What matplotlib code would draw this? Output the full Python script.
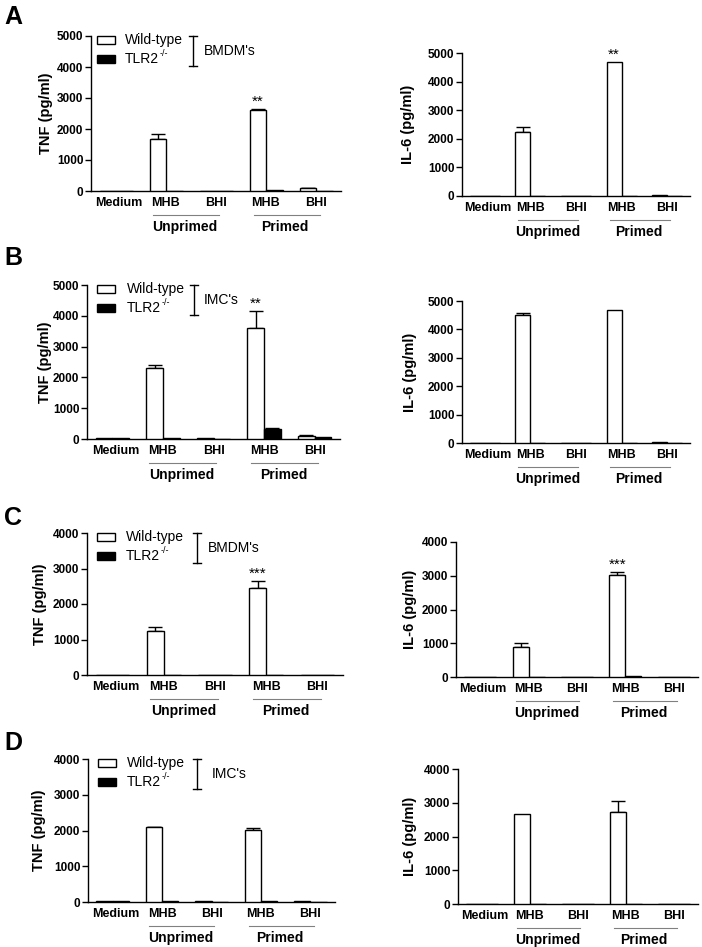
import numpy as np
import matplotlib
matplotlib.use('Agg')
import matplotlib.pyplot as plt
from matplotlib.patches import Rectangle
from matplotlib.lines import Line2D
from matplotlib.text import Annotation
from matplotlib import transforms

plt.rcParams['font.family'] = ['Liberation Sans', 'DejaVu Sans']
plt.rcParams['mathtext.default'] = 'regular'

# categories
groups = ['Medium', 'MHB', 'BHI', 'MHB', 'BHI']
prime_labels = ['Unprimed', 'Primed']

# A: BMDM's
A_tnf_wt = [0, 1680, 10, 2620, 100]
A_tnf_wt_err = [0, 160, 0, 40, 10]
A_tnf_ko = [0, 5, 5, 20, 15]
A_il6_wt = [15, 2230, 0, 4680, 30]
A_il6_wt_err = [0, 170, 0, 0, 0]
A_il6_ko = [0, 0, 0, 0, 0]

# B: IMC's
B_tnf_wt = [20, 2300, 30, 3600, 110]
B_tnf_wt_err = [0, 100, 0, 560, 30]
B_tnf_ko = [30, 25, 10, 330, 60]
B_tnf_ko_err = [0, 0, 0, 35, 0]
B_il6_wt = [0, 4500, 0, 4680, 25]
B_il6_wt_err = [0, 60, 0, 0, 0]
B_il6_ko = [0, 0, 0, 15, 0]

# C: BMDM's
C_tnf_wt = [0, 1230, 5, 2450, 10]
C_tnf_wt_err = [0, 130, 0, 200, 0]
C_tnf_ko = [0, 10, 0, 10, 10]
C_il6_wt = [0, 900, 0, 3020, 0]
C_il6_wt_err = [0, 110, 0, 90, 0]
C_il6_ko = [0, 0, 0, 15, 0]

# D: IMC's
D_tnf_wt = [15, 2100, 30, 2020, 30]
D_tnf_wt_err = [0, 10, 0, 40, 0]
D_tnf_ko = [15, 15, 5, 15, 10]
D_il6_wt = [0, 2670, 0, 2730, 0]
D_il6_wt_err = [0, 0, 0, 310, 0]
D_il6_ko = [0, 0, 0, 0, 0]

zeros = [0, 0, 0, 0, 0]

W, H = 702, 947
fig = plt.figure(figsize=(W / 100, H / 100), dpi=100)


def fx(px):
    return px / W


def fy(py):
    return 1 - py / H


x = np.arange(5)
w = 0.33


def draw_panel(box, wt, wt_err, ko, ko_err, ymax, ylabel, lab_off, stars):
    x0, y0, x1, y1 = box
    ax = fig.add_axes([fx(x0), fy(y1), (x1 - x0) / W, (y1 - y0) / H])
    ax.bar(x - w / 2, wt, w, color='white', edgecolor='black', linewidth=1.0, zorder=3)
    ax.bar(x + w / 2, ko, w, color='black', edgecolor='black', linewidth=1.0, zorder=3)
    wt_err = np.array(wt_err)
    ko_err = np.array(ko_err)
    m = wt_err > 0
    ax.errorbar((x - w / 2)[m], np.array(wt)[m], yerr=[np.zeros(m.sum()), wt_err[m]],
                fmt='none', ecolor='black', elinewidth=1.0, capsize=5, capthick=1.0, zorder=2)
    m = ko_err > 0
    ax.errorbar((x + w / 2)[m], np.array(ko)[m], yerr=[np.zeros(m.sum()), ko_err[m]],
                fmt='none', ecolor='black', elinewidth=1.0, capsize=5, capthick=1.0, zorder=2)
    for i, s in stars:
        ax.annotate(s, (x[i] - w / 2, wt[i] + wt_err[i]), xytext=(0, 0),
                    textcoords='offset points', ha='center', va='bottom', fontsize=11)

    ax.set_xlim(-0.5, 4.5)
    ax.set_ylim(0, ymax)
    ax.set_yticks(np.arange(0, ymax + 1, 1000))
    ax.set_xticks(x)
    ax.set_xticklabels(groups)
    for sp in ['top', 'right']:
        ax.spines[sp].set_visible(False)
    for sp in ['left', 'bottom']:
        ax.spines[sp].set_linewidth(1.0)
    ax.tick_params(axis='y', length=4, width=1.0, labelsize=8.5, pad=1.5)
    ax.tick_params(axis='x', length=0, labelsize=9, pad=4.5)
    for lbl in ax.get_xticklabels() + ax.get_yticklabels():
        lbl.set_fontweight('bold')
    # "Medium" sits a little right of its group centre in the original
    med = ax.get_xticklabels()[0]
    med.set_transform(med.get_transform() +
                      transforms.ScaledTranslation(0.03, 0, fig.dpi_scale_trans))
    ax.set_ylabel(ylabel, fontsize=10.5, fontweight='bold')
    ax.yaxis.set_label_coords(-lab_off / (x1 - x0), 0.5)

    # primed / unprimed underlines
    trans = transforms.blended_transform_factory(ax.transData, ax.transAxes)
    t_line = transforms.offset_copy(trans, fig=fig, y=-24, units='dots')
    t_text = transforms.offset_copy(trans, fig=fig, y=-36, units='dots')
    for (a, b), c, lab in zip([(0.73, 2.05), (2.75, 4.07)], [1.38, 3.38], prime_labels):
        ax.plot([a, b], [0, 0], transform=t_line, color='#808080', lw=0.8, clip_on=False)
        ax.text(c, 0, lab, transform=t_text, ha='center', va='center',
                fontsize=10, fontweight='bold')
    return ax


def draw_legend(left, top, offs, cell):
    r, t, b, c = offs
    fig.patches.append(Rectangle((fx(left + r), fy(top + 8)), 18 / W, 8 / H,
                                 facecolor='white', edgecolor='black', lw=1.0,
                                 transform=fig.transFigure))
    fig.patches.append(Rectangle((fx(left + r), fy(top + 27)), 18 / W, 8 / H,
                                 facecolor='black', edgecolor='black', lw=1.0,
                                 transform=fig.transFigure))
    fig.text(fx(left + t), fy(top + 4), 'Wild-type', fontsize=10, va='center', ha='left')
    ko_txt = fig.text(fx(left + t), fy(top + 23), 'TLR2', fontsize=10, va='center', ha='left')
    sup = Annotation('-/-', xy=(1, 0.9), xycoords=ko_txt, xytext=(0.5, 0),
                     textcoords='offset points', fontsize=6.5, va='center', ha='left')
    fig.add_artist(sup)
    bx = left + b
    for xs, ys in [([bx, bx], [top, top + 30]),
                   ([bx - 4, bx + 4], [top, top]),
                   ([bx - 4, bx + 4], [top + 30, top + 30])]:
        fig.lines.append(Line2D([fx(v) for v in xs], [fy(v) for v in ys], color='black',
                                lw=1.0, transform=fig.transFigure))
    fig.text(fx(left + c), fy(top + 15), cell, fontsize=10, va='center', ha='left')


# row A
draw_panel((91, 36, 341, 191), A_tnf_wt, A_tnf_wt_err, A_tnf_ko, zeros, 5000,
           'TNF (pg/ml)', 38, [(3, '**')])
draw_panel((462, 53, 690, 196), A_il6_wt, A_il6_wt_err, A_il6_ko, zeros, 5000,
           'IL-6 (pg/ml)', 47, [(3, '**')])
draw_legend(91, 36, (6, 34, 102, 113), "BMDM's")

# row B
draw_panel((87, 285, 340, 439), B_tnf_wt, B_tnf_wt_err, B_tnf_ko, B_tnf_ko_err, 5000,
           'TNF (pg/ml)', 35, [(3, '**')])
draw_panel((462, 301, 690, 443), B_il6_wt, B_il6_wt_err, B_il6_ko, zeros, 5000,
           'IL-6 (pg/ml)', 45, [])
draw_legend(87, 285, (10, 40, 107, 117), "IMC's")

# row C
draw_panel((87, 533, 343, 675), C_tnf_wt, C_tnf_wt_err, C_tnf_ko, zeros, 4000,
           'TNF (pg/ml)', 40, [(3, '***')])
draw_panel((456, 542, 698, 677), C_il6_wt, C_il6_wt_err, C_il6_ko, zeros, 4000,
           'IL-6 (pg/ml)', 39, [(3, '***')])
draw_legend(87, 533, (10, 39, 110, 121), "BMDM's")

# row D
draw_panel((88, 759, 335, 902), D_tnf_wt, D_tnf_wt_err, D_tnf_ko, zeros, 4000,
           'TNF (pg/ml)', 42, [])
draw_panel((458, 769, 698, 904), D_il6_wt, D_il6_wt_err, D_il6_ko, zeros, 4000,
           'IL-6 (pg/ml)', 41, [])
draw_legend(88, 759, (10, 39, 109, 124), "IMC's")

# panel letters
for letter, ly in zip(['A', 'B', 'C', 'D'], [5, 246, 506, 731]):
    fig.text(fx(4), fy(ly), letter, fontsize=18, fontweight='bold', ha='left', va='top')

fig.savefig('out.png', dpi=100)
